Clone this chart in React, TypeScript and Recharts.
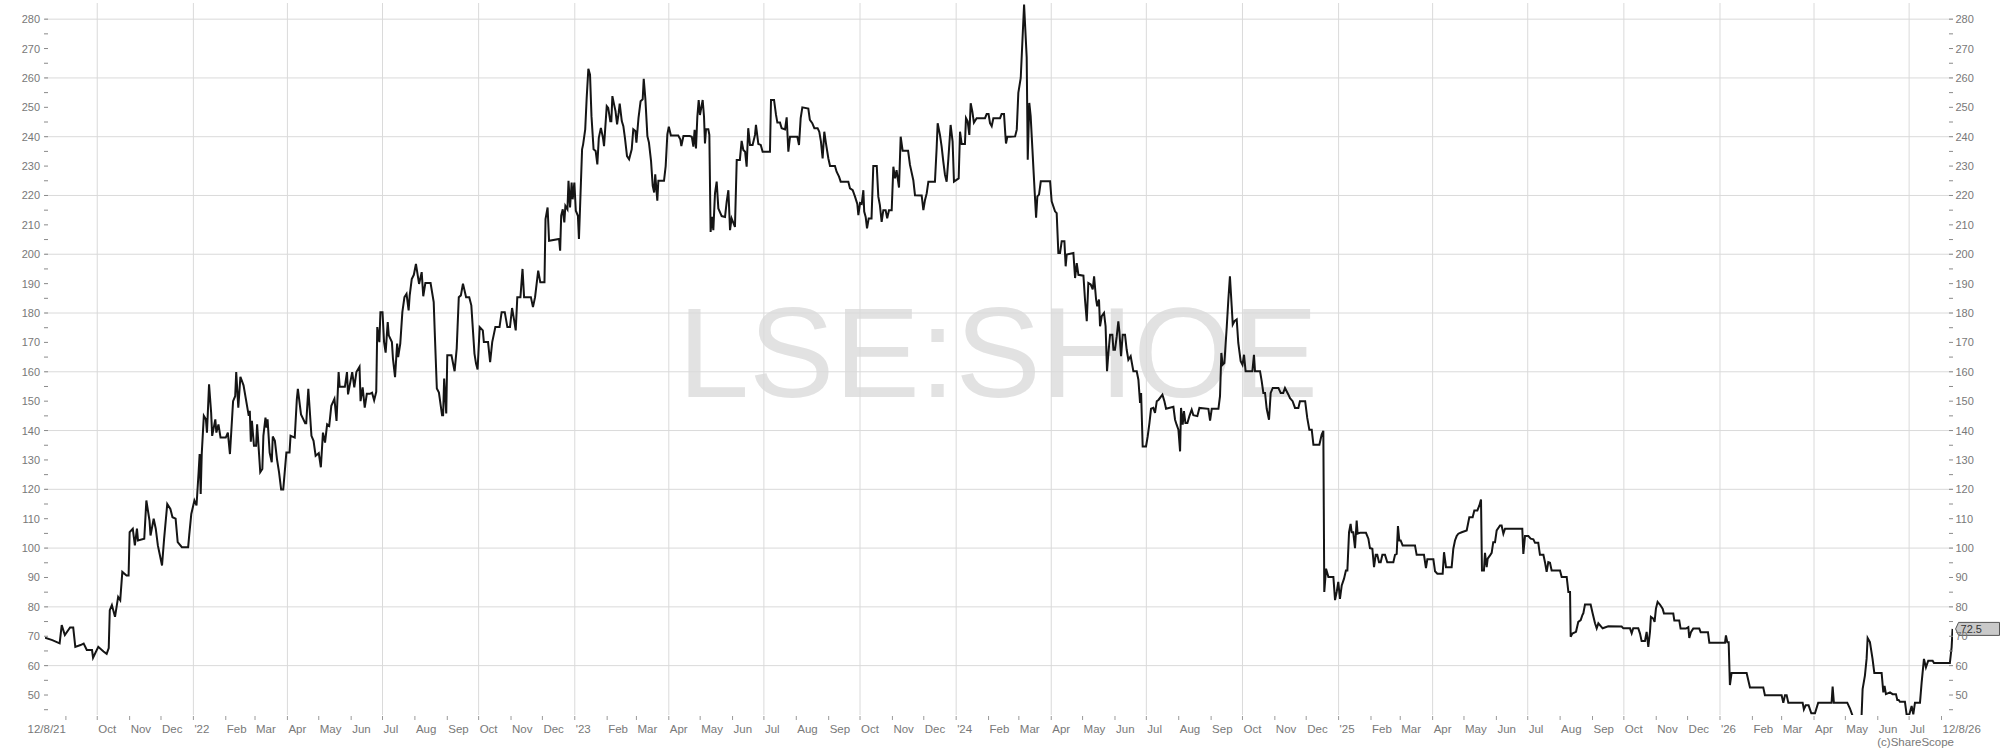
import React from 'react';
import { LineChart, Line, XAxis, YAxis, ReferenceLine, ReferenceDot } from 'recharts';

// x values: calendar days since 12 Aug 2021 (start of the 5-year view)
const START_UTC = Date.UTC(2021, 7, 12);
const END_DAY = 1826;
const TICKER = 'LSE:SHOE';
const COPYRIGHT = '(c)ShareScope';
const START_LABEL = '12/8/21';
const END_LABEL = '12/8/26';
const MONTH_NAMES = ['Jan', 'Feb', 'Mar', 'Apr', 'May', 'Jun', 'Jul', 'Aug', 'Sep', 'Oct', 'Nov', 'Dec'];
const Y_TICKS = [45, 50, 55, 60, 65, 70, 75, 80, 85, 90, 95, 100, 105, 110, 115, 120, 125, 130, 135, 140, 145, 150, 155, 160, 165, 170, 175, 180, 185, 190, 195, 200, 205, 210, 215, 220, 225, 230, 235, 240, 245, 250, 255, 260, 265, 270, 275, 280];
const Y_GRID = [60, 80, 100, 120, 140, 160, 180, 200, 220, 240, 260, 280];
const Y_DOMAIN: [number, number] = [43.2, 285.5];

// [day offset, price] — Aug 2021 to Jun 2022
const periodA: [number, number][] = [
  [0, 69.5], [7, 68.7], [14, 67.6], [16, 73.8], [19, 70.4], [24, 73], [27, 73], [29, 66.4], [34, 67], [37, 67.5],
  [40, 65.3], [45, 65.3], [46, 62.7], [51, 66.4], [56, 64.8], [59, 64], [61, 66], [62, 78.9], [64, 80.6], [67, 76.6],
  [70, 83.4], [72, 82.3], [74, 91.9], [78, 90.7], [80, 90.7], [81, 105.4], [84, 106.6], [86, 100.9], [88, 106.6], [89, 102.6],
  [95, 103.2], [97, 116.2], [100, 109.4], [101, 104.3], [104, 110], [106, 106.6], [108, 100.9], [112, 94.1], [114, 103.2], [117, 115],
  [120, 113.3], [122, 110.5], [125, 110], [127, 102], [131, 100.3], [137, 100.3], [138, 104.3], [140, 111.6], [143, 116.2], [145, 114.5],
  [147, 125.8], [148, 132], [149, 118.4], [150, 132], [152, 145], [154, 143.8], [155, 139.3], [157, 155.7], [159, 146.1], [160, 138.2],
  [163, 143.8], [164, 139.3], [166, 142.1], [168, 137.6], [173, 137.6], [175, 139.3], [177, 132], [180, 150], [182, 151.7], [183, 159.9],
  [185, 147.8], [187, 158.3], [190, 155.4], [195, 145], [196, 146.7], [197, 136.2], [198, 143.3], [200, 134.8], [202, 134.8], [203, 142.1],
  [206, 125.8], [208, 126.9], [209, 138.2], [211, 144.4], [212, 141], [213, 143.8], [215, 132.5], [217, 129.2], [218, 138], [220, 136.5],
  [222, 130.3], [224, 125.8], [226, 119.9], [228, 119.9], [231, 132.5], [234, 132.5], [235, 138.2], [239, 137.6], [241, 150.6], [242, 154.2],
  [245, 145.5], [249, 142.5], [250, 142.5], [252, 154.2], [255, 138.2], [257, 136.5], [259, 131.4], [262, 132.3], [264, 127.5], [266, 139.3],
  [268, 135.9], [270, 142.1], [272, 141.6], [274, 148.4], [277, 150.8], [279, 143.3], [281, 159.9], [282, 154.9], [287, 154.9], [289, 159.9],
  [290, 152.3], [294, 159.9], [296, 154.7], [298, 159.9], [301, 161.7], [302, 150], [304, 154.7], [306, 147.8], [308, 152.5], [311, 152.5],
];

// Jun 2022 to Apr 2023
const periodB: [number, number][] = [
  [313, 152.9], [315, 150.3], [317, 153.2], [318, 175.2], [320, 170.1], [321, 180.3], [323, 180.3], [324.5, 170.1], [326, 166.5], [328, 176.9],
  [329, 172.4], [332, 170.1], [333, 164.5], [335, 158.2], [337, 169.6], [338, 165], [340, 169.6], [342, 180.3], [344, 185.4], [346, 186.5],
  [348, 180.9], [349, 185.9], [351, 191.6], [353, 193], [355, 196.7], [356, 194.4], [358, 189.9], [360.5, 193.9], [362, 185.7], [364, 190.2],
  [369, 190.2], [372, 183.7], [373, 173.5], [375, 154.3], [377, 152.9], [380, 145.2], [381, 145.2], [382, 157.7], [384, 145.8], [385, 165.6],
  [389, 165.6], [392, 160.2], [394, 167.9], [396, 185.4], [398, 186], [400, 190], [403, 185.4], [406, 185.4], [408, 182.6], [411, 166.2],
  [412.5, 162.8], [414, 160.8], [416, 175.2], [419, 174.1], [420, 170.1], [424, 170.1], [426, 163.3], [428, 170.1], [430, 173.5], [431, 175.2],
  [435, 175.2], [437, 180.3], [440, 180.3], [442.5, 175.2], [445, 175.2], [447, 181.7], [449, 177.5], [450.5, 174.1], [452, 185.4], [455, 185.4],
  [457, 195], [458.5, 185.4], [465, 185.4], [467, 182], [469, 185.4], [472, 194.4], [474, 190.5], [478, 190.5], [479, 212], [481, 215.9],
  [482.4, 204.6], [492, 205.2], [493, 201.2], [494, 213.1], [495.5, 215.3], [497, 210.8], [498, 216.5], [500, 215.3], [501, 225], [502.5, 215.9],
  [504, 224.4], [505, 218.7], [506.6, 224.4], [508, 214.8], [510, 213.1], [511, 205.2], [512, 215.3], [514, 235.7], [515, 237.4], [517, 242.5],
  [518.4, 253.2], [520, 263.1], [521.6, 261.1], [523, 247], [525, 235.7], [527, 235.1], [528.6, 230.6], [530, 239.6], [532, 243], [534, 239.6],
  [535, 236.8], [537.6, 250.4], [539, 249.8], [541, 245.3], [542, 245.3], [543, 253.8], [544.6, 251], [546, 248.7], [547.5, 244.2], [549, 248.1],
  [550, 251.3], [552, 245.3], [553.5, 243.6], [555, 239.6], [557, 233.4], [559, 232.3], [561.5, 235.7], [563, 242.5], [565, 241.9], [566, 238],
  [568, 246.4], [570, 252.1], [572, 252.7], [573, 259.7], [574.6, 252.7], [576.5, 240.2], [578, 238], [580, 231.7], [581.6, 223.3], [583, 221],
  [584, 227.2], [586, 218.2], [587, 225], [592.4, 225], [594, 230], [595.6, 240.8], [597, 243.4], [599, 240.4], [606, 240.4], [608, 239.1],
  [609, 236.8], [611, 240.2], [617, 240.2],
];

// Apr 2023 to Feb 2024
const periodC: [number, number][] = [
  [619, 240], [620.5, 236.6], [621.7, 242.3], [623, 236], [624.3, 246.8], [625.6, 252.5], [626.8, 247.4], [629.4, 252.5], [630.7, 246.8], [631.6, 237.7],
  [632.6, 242.5], [634.8, 242.5], [635.8, 240.6], [637, 207.6], [638.3, 212.7], [639.6, 208.2], [641.2, 220.7], [642.8, 224.7], [644.4, 215.6], [647.6, 213],
  [650.8, 212.7], [652.4, 217.9], [654, 221.8], [655.6, 208.2], [657.1, 212.2], [660.3, 209.3], [662, 232.1], [665, 232.1], [666.7, 238.6], [668.3, 235.5],
  [670, 234.9], [671.5, 229.8], [673, 242.9], [674.7, 237.2], [677.2, 237.2], [679.5, 240.6], [680.4, 244], [682.7, 237.5], [685, 237.2], [686.8, 234.9],
  [693.8, 234.9], [694.8, 252.5], [697.7, 252.5], [699.6, 247.4], [700.9, 244.8], [703.4, 244.8], [705, 242.9], [708.2, 242.5], [709.8, 246.6], [711.4, 234.9],
  [713, 240], [720, 240], [721.6, 237.2], [723.2, 246.3], [724.8, 250], [730.5, 249.6], [732, 245.7], [734.3, 244.6], [736.3, 242.9], [739.4, 242.9],
  [741, 241.7], [742.6, 238.3], [744.2, 232.6], [745.8, 241.7], [747.4, 237.7], [749.7, 232.6], [751.3, 230], [756, 230], [757.6, 228.1], [759.9, 226.4],
  [761.5, 224.7], [768.8, 224.7], [770.4, 222.4], [773, 221.8], [775.2, 219.6], [777.4, 217.1], [778.4, 213.3], [780, 217.4], [781.6, 217.1], [783.2, 221.8],
  [784, 214.5], [785.4, 212.7], [786.7, 208.8], [788.3, 212.2], [791, 212.2], [792.7, 230], [796, 230], [797.5, 219.6], [799, 216.7], [800.7, 211],
  [802.3, 215], [804.5, 215], [806, 212.2], [807.7, 215], [810.3, 215], [811.9, 229.8], [813.5, 225.8], [815, 228.6], [817.3, 222.7], [818.9, 240],
  [820.8, 235.2], [826, 235.2], [827.8, 230.4], [831, 225.2], [832.6, 220.1], [839, 220], [840.6, 215], [842.2, 218.5], [843.8, 220.7], [845.4, 224.7],
  [851.7, 224.7], [853.3, 236], [854.3, 244.6], [856.5, 240.6], [858.1, 236.6], [859.7, 231.5], [861.3, 227], [862.9, 224.7], [864.5, 232.3], [866.7, 244],
  [868.6, 238.3], [869.9, 224.7], [874.4, 225.8], [875.7, 241.7], [877.3, 237.5], [880.4, 237.5], [881.4, 246.3], [883, 245.2], [884.6, 240.6], [885.9, 251.4],
  [887.5, 248.5], [889, 244.8], [891.6, 246.3], [899.6, 246.3], [901.2, 247.7], [903, 247.7], [904.4, 244.6], [906, 243.6], [907.6, 246.3], [914, 246.3],
  [915.5, 247.7], [917.8, 247.7], [919, 241.1], [919.7, 237.7], [921, 240], [923.5, 240],
];

// Feb 2024 to Dec 2024
const periodD: [number, number][] = [
  [928.4, 240.1], [930, 242.4], [931.5, 254.9], [933.8, 260], [937, 285], [939.5, 267], [940.5, 232.2], [942, 251.5], [943.3, 247], [945, 235.6],
  [946, 228.8], [947.2, 220.9], [948.5, 212.4], [949.7, 219.7], [951.3, 220.3], [953, 224.8], [961.9, 224.8], [963.4, 218], [966.6, 214.6], [968.2, 214],
  [969.8, 200.4], [971.4, 200.4], [973, 204.4], [975.6, 204.4], [976.8, 195.9], [977.8, 199.9], [984.2, 200.4], [985.8, 191.9], [987.4, 197], [989, 193],
  [993.8, 192.7], [995.3, 184.6], [997, 177.2], [998.5, 190.2], [1000.8, 189.7], [1002.7, 188], [1004, 192.5], [1005.9, 184.6], [1007, 182.3], [1008.7, 184.6],
  [1009.7, 175.5], [1011.3, 178.9], [1013.5, 180], [1015, 175.5], [1016.4, 160.2], [1017.7, 166.4], [1019.3, 172.6], [1021.5, 172.6], [1022.5, 167.5], [1024, 167.5],
  [1025.7, 172.1], [1027.2, 177.2], [1028.2, 173.8], [1029.8, 165.3], [1031.4, 172.6], [1033.6, 172.6], [1035.2, 167.5], [1036.8, 164.1], [1039, 165.3], [1041.6, 160.2],
  [1044.8, 160.2], [1046.4, 157.3], [1048, 149.4], [1049, 152.8], [1050.5, 134.6], [1053.7, 134.6], [1055.3, 138], [1057, 142.6], [1058.5, 147.4], [1060.7, 147.7],
  [1062.3, 146], [1064, 150], [1065.8, 150.5], [1069.4, 152.2], [1071.3, 150], [1072.9, 147.4], [1079.9, 148.1], [1081.5, 143.7], [1083, 142], [1084.7, 140.3],
  [1086.3, 132.9], [1087.2, 147.7], [1088.8, 142], [1090, 146.6], [1091.4, 142.6], [1093.3, 142.6], [1095.2, 144.9], [1097.4, 147.1], [1099, 145.2], [1102.8, 144.9],
  [1104.8, 147.7], [1113.4, 147.4], [1115, 143.4], [1116.6, 147.4], [1123, 147.4], [1124.5, 151.7], [1125.8, 166.4], [1127, 162.4], [1128.7, 163], [1131, 175.5],
  [1132.5, 184.6], [1134, 192.5], [1135.7, 182.3], [1136.7, 176.1], [1138.3, 177.2], [1140.5, 177.8], [1142, 169.8], [1144.3, 163.6], [1146, 162.4], [1147.5, 165.8],
  [1149, 160.2], [1155.5, 160.2], [1157, 165.8], [1158, 160.2], [1162.8, 160.2], [1164.4, 156.8], [1166, 152.8], [1167.6, 152.8], [1169.2, 147.4], [1171.4, 143.7],
  [1173, 152.8], [1175, 154.5], [1180.4, 154.5], [1182.6, 152.8], [1185, 152.8], [1186.7, 154.5], [1190, 152.2], [1191.5, 151], [1194, 150], [1196.3, 147.7],
  [1199.5, 147.7], [1201, 150], [1206, 150], [1208, 144.3], [1210, 140.3], [1212.3, 140.3], [1213.9, 135.2], [1219.6, 135.2], [1221.8, 138.6], [1223.4, 139.9],
];

// Dec 2024 to Nov 2025
const periodE: [number, number][] = [
  [1224.3, 85.1], [1226, 93], [1228.2, 90.2], [1233, 90.2], [1234.6, 82.3], [1236.2, 85.1], [1237.7, 88.5], [1239.3, 82.7], [1241, 87.3], [1243.2, 89.6],
  [1245, 92.4], [1246.4, 92.4], [1248, 105.4], [1249.5, 108.2], [1250.5, 105.4], [1252, 105.4], [1253.7, 100], [1255.3, 109.4], [1256.2, 104.9], [1258.5, 105.2],
  [1264.2, 105.2], [1266.5, 103.2], [1268, 100], [1270.3, 99.8], [1271.9, 93.5], [1273.5, 97.7], [1275, 97.7], [1276.7, 95.2], [1278.3, 95.2], [1279.9, 97.7],
  [1282.4, 97.7], [1284.6, 95.2], [1290.4, 95.2], [1292, 97.7], [1293.6, 98], [1294.8, 107.5], [1296.1, 102.6], [1297.4, 102.6], [1299.3, 100.9], [1311.1, 100.9],
  [1312.7, 97.7], [1319.7, 97.7], [1321.6, 93.2], [1322.9, 96.2], [1328.7, 96.2], [1330.3, 92.1], [1332.5, 91.3], [1337.6, 91.3], [1338.9, 98.6], [1340.8, 93.5],
  [1346.2, 93.5], [1347.8, 99.8], [1349.4, 102.6], [1351, 104.1], [1352.6, 104.9], [1355.8, 105.4], [1360.6, 106], [1363.1, 110.5], [1366.3, 110.5], [1367.9, 112.8],
  [1370.8, 112.8], [1372.7, 114.5], [1374.3, 116.5], [1375.2, 92.4], [1377.1, 92.4], [1378.1, 98.4], [1379.7, 93.5], [1380.7, 96.4], [1382.9, 97.5], [1384.5, 98.4],
  [1386, 102], [1387.7, 102], [1389.3, 106], [1392.5, 107.7], [1394, 107.7], [1395.7, 104.9], [1397.3, 106.6], [1413.8, 106.6], [1414.8, 98], [1416.4, 104.1],
  [1419.6, 104.1], [1421.8, 103.2], [1424.4, 103], [1426, 101.8], [1429.1, 101.8], [1430.7, 97.7], [1434, 97.7], [1435.5, 95.2], [1437.1, 91.9], [1438.7, 95.2],
  [1440.3, 95], [1441.9, 92.4], [1449.9, 92.4], [1451.5, 90.2], [1456.3, 90.2], [1457.9, 85.1], [1459.5, 85.1], [1460.1, 69.8], [1461.7, 70.9], [1465.2, 71.5],
  [1467.4, 74.9], [1469.7, 75.5], [1471.3, 77.2], [1472.2, 77.8], [1473.8, 80.8], [1479.2, 80.8], [1481.1, 77.8], [1483.4, 74.4], [1485, 72.7], [1486.6, 74.4],
  [1490.7, 72.7], [1496.1, 73.4], [1508.9, 73.3], [1510.5, 72.7], [1516.9, 72.7], [1518.5, 71], [1520, 72.7], [1524.8, 72.7], [1526.4, 71], [1528, 68.4],
  [1531.2, 68.4], [1532.8, 71.5], [1534.4, 66.4], [1536, 71.5],
];

// Nov 2025 to Aug 2026
const periodF: [number, number][] = [
  [1536.9, 76.6], [1539.2, 76], [1540.4, 74.9], [1541.7, 79.4], [1543.3, 81.7], [1545.5, 80.8], [1548.1, 79.4], [1549.4, 77.7], [1558.3, 77.7], [1559.3, 75.4],
  [1564, 75.4], [1565.3, 72.6], [1570.4, 72.6], [1572.7, 73.1], [1573.6, 69.4], [1575.2, 71.4], [1577.4, 72.6], [1583.2, 72.6], [1584.5, 71.4], [1591.5, 71.4],
  [1592.8, 67.8], [1607.8, 67.8], [1608.7, 70.3], [1610, 68], [1611.3, 68], [1612.5, 53.4], [1614.1, 57.5], [1628.5, 57.5], [1631.7, 52.6], [1644.4, 52.6],
  [1646, 49.9], [1662, 49.9], [1663.6, 47.4], [1665.2, 49.9], [1666.8, 49.9], [1668.4, 47.4], [1682.1, 47.4], [1683.3, 45.1], [1685, 46.5], [1687.8, 46.5],
  [1690.4, 43.8], [1693.9, 43.8], [1697, 47.4], [1709.8, 47.4], [1710.8, 52.9], [1712, 47.4], [1724.8, 47.4], [1727.4, 45.4], [1729.9, 42.9], [1738.5, 42.9],
  [1739.5, 52], [1741.7, 56.6], [1743.3, 62.3], [1744.3, 69.4], [1746.5, 68], [1749, 62.3], [1750.7, 57.5], [1757.7, 57.5], [1759.3, 50.9], [1760.5, 53.1],
  [1761.8, 50.3], [1765.7, 50.9], [1768.2, 50.3], [1771.4, 50.3], [1772.7, 48.3], [1774, 48.3], [1775.2, 47.7], [1780, 47.7], [1781.6, 43.4], [1784.2, 43.4],
  [1786.4, 46.3], [1788, 43.4], [1789.6, 47.4], [1794.4, 47.4], [1796, 54.3], [1798.2, 62.3], [1800.1, 59.4], [1802.3, 61.7], [1806.5, 61.7], [1807.8, 60.9],
  [1823, 60.9], [1824.7, 66.3], [1825.6, 72.5],
];

const LAST_PRICE_LABEL = '72.5';

const data = [...periodA, ...periodB, ...periodC, ...periodD, ...periodE, ...periodF].map(([day, price]) => ({ day, price }));
const last = data[data.length - 1];

const dayOf = (y: number, m: number) => Math.round((Date.UTC(y, m, 1) - START_UTC) / 86400000);

// month-start ticks (Sep 2021 .. Aug 2026) and quarterly grid lines
const monthTicks: number[] = [];
const tickLabels: Record<number, string> = {};
const quarterLines: number[] = [];
for (let y = 2021; y <= 2026; y++) {
  for (let m = 0; m < 12; m++) {
    const d = dayOf(y, m);
    if (d < 0 || d > END_DAY) continue;
    monthTicks.push(d);
    tickLabels[d] = m === 0 ? "'" + String(y).slice(2) : MONTH_NAMES[m];
    if (m % 3 === 0) quarterLines.push(d);
  }
}
const FIRST_TICK = monthTicks[0];
const LAST_TICK = monthTicks[monthTicks.length - 1];
tickLabels[FIRST_TICK] = START_LABEL;
tickLabels[LAST_TICK] = END_LABEL;

const FONT = "'Liberation Sans', Arial, sans-serif";
const LABEL_COLOR = '#787878';
const GRID_COLOR = '#dadada';

const XTick = (props: any) => {
  const { x, y, payload } = props;
  const v = payload.value;
  const isFirst = v === FIRST_TICK;
  return (
    <g>
      <line x1={x} x2={x} y1={y + 1} y2={y + 5} stroke="#9a9a9a" strokeWidth={1} />
      <text x={isFirst ? x : x + 1} y={y + 18} textAnchor={isFirst ? 'end' : 'start'} fontSize={11.5} fontFamily={FONT} fill={LABEL_COLOR}>
        {tickLabels[v]}
      </text>
    </g>
  );
};

const LeftTick = (props: any) => {
  const { x, y, payload } = props;
  const v = payload.value;
  return (
    <g>
      <line x1={x - 1} x2={x + 3} y1={y} y2={y} stroke="#8a8a8a" strokeWidth={1} />
      {v % 10 === 0 && (
        <text x={x - 5} y={y + 4} textAnchor="end" fontSize={11} fontFamily={FONT} fill={LABEL_COLOR}>{v}</text>
      )}
    </g>
  );
};

const RightTick = (props: any) => {
  const { x, y, payload } = props;
  const v = payload.value;
  return (
    <g>
      <line x1={x - 4} x2={x} y1={y} y2={y} stroke="#8a8a8a" strokeWidth={1} />
      {v % 10 === 0 && (
        <text x={x + 2.5} y={y + 4} textAnchor="start" fontSize={11} fontFamily={FONT} fill={LABEL_COLOR}>{v}</text>
      )}
    </g>
  );
};

const PriceTag = (props: any) => {
  const { cx, cy } = props;
  if (cx == null || cy == null) return null;
  const h = 6.5;
  const pts = `${cx + 3},${cy} ${cx + 6},${cy - h} 1999.5,${cy - h} 1999.5,${cy + h} ${cx + 6},${cy + h}`;
  return (
    <g>
      <polygon points={pts} fill="#c9c9c9" stroke="#555" strokeWidth={1} />
      <text x={cx + 8} y={cy + 4} fontSize={11} fontFamily={FONT} fill="#333">{LAST_PRICE_LABEL}</text>
    </g>
  );
};

export default function App() {
  return (
    <div style={{ position: 'absolute', left: 0, top: 0, width: 2000, height: 751, background: '#fff' }}>
      <svg width={2000} height={751} style={{ position: 'absolute', left: 0, top: 0 }}>
        <text x={998} y={397} textAnchor="middle" fontSize={128} fontFamily={FONT} fill="#e2e2e2">{TICKER}</text>
        <text x={1954} y={746} textAnchor="end" fontSize={11.5} fontFamily={FONT} fill={LABEL_COLOR}>{COPYRIGHT}</text>
      </svg>
      <div style={{ position: 'absolute', left: 0, top: 0 }}>
        <LineChart width={2000} height={751} data={data} margin={{ top: 3, right: 0, bottom: 0, left: 0 }}>
          <XAxis
            dataKey="day"
            type="number"
            domain={[0, END_DAY]}
            ticks={monthTicks}
            interval={0}
            tick={XTick}
            tickLine={false}
            axisLine={false}
            tickSize={0}
            tickMargin={0}
            height={36}
            allowDataOverflow
          />
          <YAxis
            yAxisId="left"
            orientation="left"
            type="number"
            width={45}
            domain={Y_DOMAIN}
            ticks={Y_TICKS}
            interval={0}
            tick={LeftTick}
            tickLine={false}
            axisLine={false}
            tickSize={0}
            tickMargin={0}
            allowDataOverflow
          />
          <YAxis
            yAxisId="right"
            orientation="right"
            type="number"
            width={47}
            domain={Y_DOMAIN}
            ticks={Y_TICKS}
            interval={0}
            tick={RightTick}
            tickLine={false}
            axisLine={false}
            tickSize={0}
            tickMargin={0}
            allowDataOverflow
          />
          {Y_GRID.map((v) => (
            <ReferenceLine key={'h' + v} y={v} yAxisId="left" stroke={GRID_COLOR} strokeWidth={1} />
          ))}
          {quarterLines.map((d) => (
            <ReferenceLine key={'v' + d} x={d} yAxisId="left" stroke={GRID_COLOR} strokeWidth={1} />
          ))}
          <Line
            yAxisId="left"
            dataKey="price"
            type="linear"
            stroke="#151515"
            strokeWidth={2}
            dot={false}
            activeDot={false}
            isAnimationActive={false}
          />
          <ReferenceDot yAxisId="left" x={last.day} y={last.price} r={0} shape={PriceTag} ifOverflow="visible" />
        </LineChart>
      </div>
    </div>
  );
}
